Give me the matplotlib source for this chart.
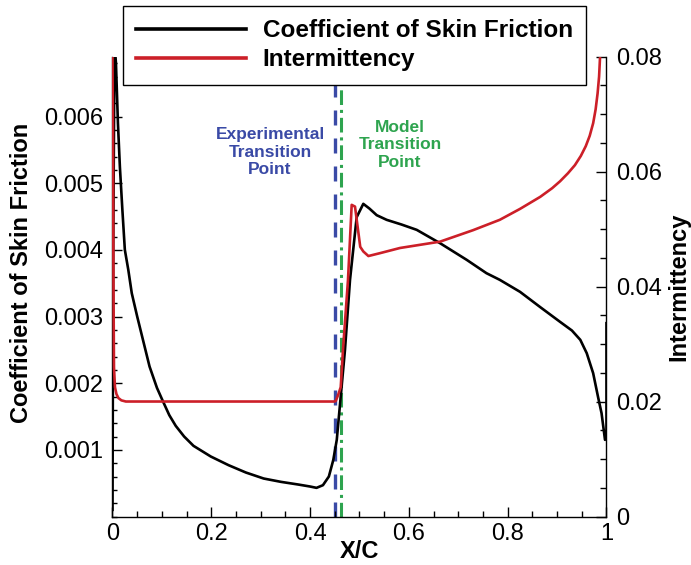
import matplotlib
matplotlib.use("Agg")
import matplotlib.pyplot as plt
from matplotlib.ticker import MultipleLocator, FixedLocator, FixedFormatter

plt.rcParams['font.family'] = ['Liberation Sans', 'DejaVu Sans']

# Skin friction coefficient (left axis)
x_cf = [0.0, 0.0015, 0.004, 0.007, 0.011, 0.015, 0.02, 0.025, 0.032, 0.039,
        0.05, 0.06, 0.075, 0.09, 0.102, 0.115, 0.128, 0.145, 0.164, 0.199,
        0.235, 0.270, 0.306, 0.341, 0.376, 0.400, 0.413, 0.426, 0.438, 0.447,
        0.454, 0.462, 0.4706, 0.4808, 0.4943, 0.5077, 0.520, 0.5348, 0.555,
        0.585, 0.6158, 0.663, 0.717, 0.757, 0.784, 0.825, 0.866, 0.906, 0.93,
        0.947, 0.96, 0.973, 0.983, 0.990, 0.997, 1.0, 1.0]
cf = [0.0001, 0.0040, 0.0071, 0.0068, 0.0059, 0.00524, 0.0046, 0.0040,
      0.0037, 0.00335, 0.0030, 0.0027, 0.00225, 0.00193, 0.00173, 0.00152,
      0.00136, 0.00120, 0.00106, 0.00090, 0.00077, 0.00066, 0.00057, 0.00052,
      0.00048, 0.00045, 0.00043, 0.00047, 0.00060, 0.00085, 0.00115, 0.0018,
      0.0025, 0.00355, 0.00449, 0.00469, 0.00462, 0.00452, 0.00445, 0.00438,
      0.0043, 0.0041, 0.00385, 0.00365, 0.00355, 0.00337, 0.00314, 0.00292,
      0.00279, 0.00265, 0.00245, 0.00215, 0.00179, 0.00155, 0.00115, 0.00118,
      0.0029]

# Intermittency (right axis)
x_gam = [0.0, 0.001, 0.002, 0.003, 0.005, 0.008, 0.012, 0.018, 0.027, 0.45,
         0.452, 0.457, 0.462, 0.4666, 0.4767, 0.4842, 0.4909, 0.5015, 0.5077,
         0.518, 0.5415, 0.582, 0.663, 0.730, 0.784, 0.825, 0.866, 0.89,
         0.906, 0.922, 0.936, 0.948, 0.958, 0.966, 0.973, 0.978, 0.982,
         0.985, 0.987]
gam = [0.08, 0.065, 0.04, 0.026, 0.0225, 0.0213, 0.0206, 0.0202, 0.0200,
       0.0200, 0.0201, 0.0212, 0.0225, 0.029, 0.0411, 0.0542, 0.0539, 0.0469,
       0.0461, 0.0453, 0.0458, 0.0467, 0.0478, 0.0498, 0.0516, 0.0535, 0.0556,
       0.0571, 0.0583, 0.0597, 0.0611, 0.0627, 0.0644, 0.0662, 0.0684,
       0.0708, 0.0736, 0.0765, 0.080]

x_exp_transition = 0.45
x_model_transition = 0.462

x_ticks = [0, 0.2, 0.4, 0.6, 0.8, 1.0]
x_tick_labels = ["0", "0.2", "0.4", "0.6", "0.8", "1"]
cf_ticks = [0.001, 0.002, 0.003, 0.004, 0.005, 0.006]
cf_tick_labels = ["0.001", "0.002", "0.003", "0.004", "0.005", "0.006"]
gam_ticks = [0, 0.02, 0.04, 0.06, 0.08]
gam_tick_labels = ["0", "0.02", "0.04", "0.06", "0.08"]

fig = plt.figure(figsize=(6.91, 5.65), dpi=100)
ax = fig.add_axes([0.1628, 0.0858, 0.7149, 0.8142])
ax2 = ax.twinx()

# transition markers
ax.axvline(x_exp_transition, color="#3a4aa6", lw=2.4, dashes=(4.5, 3.9), zorder=1)
ax.axvline(x_model_transition, color="#2ea44f", lw=2.2,
           dashes=(4.8, 1.6, 1.0, 1.6), zorder=1)

line_cf, = ax.plot(x_cf, cf, color="black", lw=1.9, zorder=3,
                   label="Coefficient of Skin Friction")
line_gam, = ax2.plot(x_gam, gam, color="#cc1f28", lw=1.9, zorder=3,
                     label="Intermittency")

ax.set_xlim(0, 1)
ax.set_ylim(0, 0.0069)
ax2.set_ylim(0, 0.08)

# ticks
ax.xaxis.set_major_locator(FixedLocator(x_ticks))
ax.xaxis.set_major_formatter(FixedFormatter(x_tick_labels))
ax.xaxis.set_minor_locator(MultipleLocator(0.05))
ax.yaxis.set_major_locator(FixedLocator(cf_ticks))
ax.yaxis.set_major_formatter(FixedFormatter(cf_tick_labels))
ax.yaxis.set_minor_locator(MultipleLocator(0.0002))
ax2.yaxis.set_major_locator(FixedLocator(gam_ticks))
ax2.yaxis.set_major_formatter(FixedFormatter(gam_tick_labels))
ax2.yaxis.set_minor_locator(MultipleLocator(0.005))

ax.tick_params(which="both", direction="in", labelsize=17, width=1.0,
               top=False, right=False)
ax.tick_params(axis="x", which="major", length=7, pad=5)
ax.tick_params(axis="x", which="minor", length=4.5)
ax.tick_params(axis="y", which="major", length=7, pad=7)
ax.tick_params(axis="y", which="minor", length=3.5)
ax2.tick_params(which="both", direction="in", labelsize=17, width=1.0,
                left=False, top=False)
ax2.tick_params(which="major", length=7, pad=7)
ax2.tick_params(which="minor", length=4.5)

for a in (ax, ax2):
    a.spines["top"].set_visible(False)
    for s in ("left", "right", "bottom"):
        a.spines[s].set_linewidth(1.0)
ax.spines["right"].set_visible(False)
ax2.spines["left"].set_visible(False)
ax2.spines["bottom"].set_visible(False)

ax.set_xlabel("X/C", fontsize=17, fontweight="bold")
ax.xaxis.set_label_coords(0.5, -0.05)
ax.set_ylabel("Coefficient of Skin Friction", fontsize=17, fontweight="bold")
ax.yaxis.set_label_coords(-0.161, 0.53)
ax2.set_ylabel("Intermittency", fontsize=17, fontweight="bold")
ax2.yaxis.set_label_coords(1.124, 0.5)

ax.text(0.319, 0.792, "Experimental\nTransition\nPoint", transform=ax.transAxes,
        ha="center", va="center", multialignment="center", color="#3a4aa6",
        fontsize=12.5, fontweight="bold", linespacing=1.22)
ax.text(0.582, 0.808, "Model\nTransition\nPoint", transform=ax.transAxes,
        ha="center", va="center", multialignment="center", color="#2ea44f",
        fontsize=12.5, fontweight="bold", linespacing=1.22)

leg = fig.legend(handles=[line_cf, line_gam], loc="upper left",
                 bbox_to_anchor=(123 / 691, 1 - 6 / 565),
                 bbox_transform=fig.transFigure, borderaxespad=0,
                 prop={"size": 17.5, "weight": "bold"}, handlelength=4.5,
                 handletextpad=0.7, labelspacing=0.25, borderpad=0.55,
                 fancybox=False, framealpha=1, edgecolor="black")
leg.get_frame().set_linewidth(1.0)
for h in leg.get_lines():
    h.set_linewidth(2.6)

fig.savefig("out.png", dpi=100)
